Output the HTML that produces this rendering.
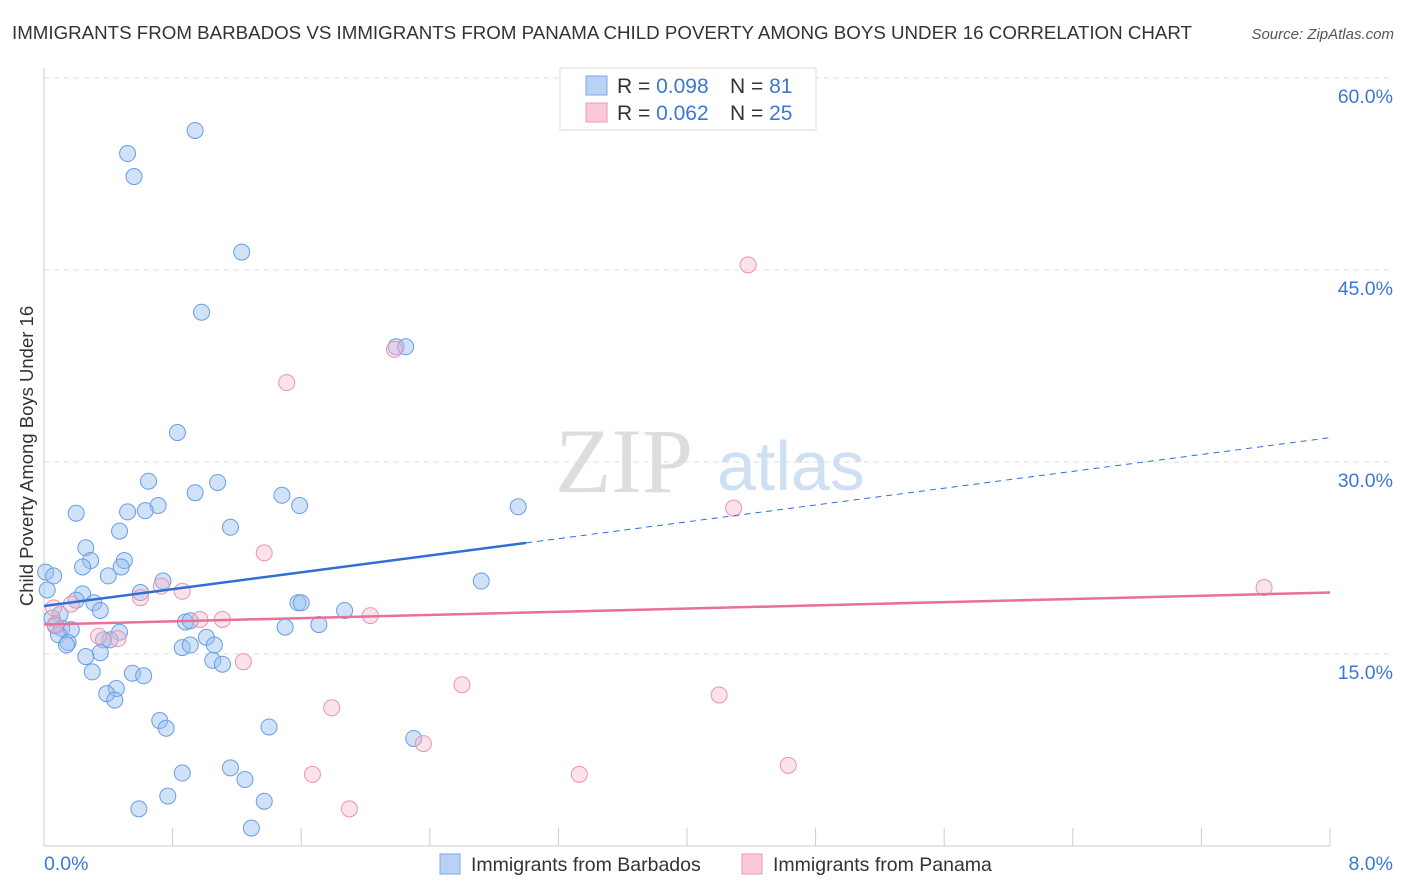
<!DOCTYPE html>
<html><head><meta charset="utf-8"><style>
body{margin:0;background:#fff;font-family:"Liberation Sans",sans-serif}
svg{display:block}
</style></head><body>
<svg id="chart" width="1406" height="892" xmlns="http://www.w3.org/2000/svg" font-family="Liberation Sans, sans-serif">
<text x="12" y="39" font-size="18.5" fill="#333" textLength="1180" lengthAdjust="spacingAndGlyphs">IMMIGRANTS FROM BARBADOS VS IMMIGRANTS FROM PANAMA CHILD POVERTY AMONG BOYS UNDER 16 CORRELATION CHART</text>
<text x="1394" y="39" font-size="15" fill="#555" text-anchor="end" font-style="italic">Source: ZipAtlas.com</text>
<text transform="translate(33,456) rotate(-90)" font-size="18.5" fill="#333" text-anchor="middle">Child Poverty Among Boys Under 16</text>
<g id="grid"></g>
<text x="555" y="492" font-size="92" fill="#ddd" font-family="Liberation Serif, serif">ZIP</text>
<text x="717" y="490" font-size="70" fill="#cfe0f3">atlas</text>
<g id="marks"></g>
<g>
<rect x="560" y="68" width="256" height="62" fill="#fff" stroke="#ddd"/>
<rect x="586" y="76" width="21" height="19" fill="#b7d2f5" stroke="#7ea9e6"/>
<rect x="586" y="103" width="21" height="19" fill="#fbc9d8" stroke="#ef9ab5"/>
<text x="617" y="93" font-size="21" fill="#333">R = <tspan fill="#3a78d4">0.098</tspan></text>
<text x="730" y="93" font-size="21" fill="#333">N = <tspan fill="#3a78d4"> 81</tspan></text>
<text x="617" y="120" font-size="21" fill="#333">R = <tspan fill="#3a78d4">0.062</tspan></text>
<text x="730" y="120" font-size="21" fill="#333">N = <tspan fill="#3a78d4">25</tspan></text>
</g>
<g>
<rect x="440" y="854" width="20" height="20" fill="#b7d2f5" stroke="#7ea9e6"/>
<text x="471" y="871" font-size="19.5" fill="#333">Immigrants from Barbados</text>
<rect x="742" y="854" width="20" height="20" fill="#fbc9d8" stroke="#ef9ab5"/>
<text x="773" y="871" font-size="19.5" fill="#333">Immigrants from Panama</text>
</g>
</svg>
<script>
const xTicks=[0,0.8,1.6,2.4,3.2,4.0,4.8,5.6,6.4,7.2,8.0];
const yTicks=[15,30,45,60];
const yTickLabels=["15.0%","30.0%","45.0%","60.0%"];
const xEndLabels=["0.0%","8.0%"];
const barbadosX=[0.94,0.52,0.56,1.23,0.98,2.19,2.25,0.83,0.65,1.08,0.94,1.48,1.59,2.95,0.20,0.71,0.52,0.63,1.16,0.47,0.26,0.50,0.29,0.48,0.24,0.01,0.06,0.40,2.72,0.74,0.02,0.60,0.24,0.20,0.31,0.35,1.58,1.60,1.87,0.10,0.05,0.88,0.91,1.71,1.50,0.07,0.11,0.17,0.09,0.47,1.01,0.41,0.37,0.15,0.14,0.86,0.91,1.06,0.35,0.26,1.05,1.11,0.30,0.55,0.62,0.45,0.39,0.44,0.72,0.76,1.40,2.30,0.86,1.16,1.25,0.77,1.37,0.59,1.29];
const barbadosY=[55.9,54.1,52.3,46.4,41.7,39.0,39.0,32.3,28.5,28.4,27.6,27.4,26.6,26.5,26.0,26.6,26.1,26.2,24.9,24.6,23.3,22.3,22.3,21.8,21.8,21.4,21.1,21.1,20.7,20.7,20.0,19.8,19.7,19.2,19.0,18.4,19.0,19.0,18.4,18.1,17.8,17.5,17.6,17.3,17.1,17.2,17.0,16.9,16.5,16.7,16.3,16.1,16.1,15.9,15.7,15.5,15.7,15.7,15.1,14.8,14.5,14.2,13.6,13.5,13.3,12.3,11.9,11.4,9.8,9.2,9.3,8.4,5.7,6.1,5.2,3.9,3.5,2.9,1.4];
const panamaX=[4.38,2.18,1.51,4.29,1.37,7.59,0.73,0.86,0.60,0.17,0.06,2.03,0.97,1.11,0.07,0.34,0.46,1.24,2.60,4.20,1.79,2.36,4.63,3.33,1.67,1.90];
const panamaY=[45.4,38.8,36.2,26.4,22.9,20.2,20.3,19.9,19.4,18.9,18.6,18.0,17.7,17.7,17.3,16.4,16.2,14.4,12.6,11.8,10.8,8.0,6.3,5.6,5.6,2.9];
const barbadosTrend=[18.75,31.9];
const barbadosSolidEnd=3.0;
const panamaTrend=[17.3,19.8];

const X=v=>44+v*160.75, Y=v=>846-v*12.8;
const NS="http://www.w3.org/2000/svg";
const grid=document.getElementById('grid'), marks=document.getElementById('marks');
function mk(tag,attrs,parent){const e=document.createElementNS(NS,tag);for(const k in attrs)e.setAttribute(k,attrs[k]);parent.appendChild(e);return e;}
yTicks.forEach((t,i)=>{
  const l=mk('line',{x1:44,x2:1394,y1:Y(t),y2:Y(t),stroke:'#ddd','stroke-dasharray':'5,5'},grid);
  
  
  const tx=mk('text',{x:1393,y:Y(t)+25,'font-size':19.5,fill:'#3a78d4','text-anchor':'end'},grid);
  tx.textContent=yTickLabels[i];
  
  
});
const ax=mk('line',{x1:44,x2:1330,y1:846,y2:846,stroke:'#ccc'},grid);


const ay=mk('line',{x1:44,x2:44,y1:68,y2:846,stroke:'#ccc'},grid);


xTicks.forEach(t=>{
  const l=mk('line',{x1:X(t),x2:X(t),y1:828,y2:846,stroke:'#ccc'},grid);
  
  
});
[[0,'start',xEndLabels[0]],[8,'end',xEndLabels[1]]].forEach(([v,a,s])=>{
  const t=mk('text',{x:v===0?44:1393,y:870,'font-size':19.5,fill:'#3a78d4','text-anchor':a},grid);
  t.textContent=s;
  
  
});
barbadosX.forEach((x,i)=>{
  const c=mk('circle',{cx:X(x),cy:Y(barbadosY[i]),r:8,fill:'rgba(150,190,240,0.45)',stroke:'#6a9de0','stroke-width':1},marks);
  
  
});
panamaX.forEach((x,i)=>{
  const c=mk('circle',{cx:X(x),cy:Y(panamaY[i]),r:8,fill:'rgba(248,185,205,0.4)',stroke:'#ec93b0','stroke-width':1},marks);
  
  
});
const bAt=x=>barbadosTrend[0]+(barbadosTrend[1]-barbadosTrend[0])*x/8;
const b1=mk('line',{x1:X(0),y1:Y(bAt(0)),x2:X(barbadosSolidEnd),y2:Y(bAt(barbadosSolidEnd)),stroke:'#2f6fd6','stroke-width':2.5},marks);


const b2=mk('line',{x1:X(barbadosSolidEnd),y1:Y(bAt(barbadosSolidEnd)),x2:X(8),y2:Y(bAt(8)),stroke:'#2f6fd6','stroke-width':1,'stroke-dasharray':'6,5'},marks);


const p1=mk('line',{x1:X(0),y1:Y(panamaTrend[0]),x2:X(8),y2:Y(panamaTrend[1]),stroke:'#e8709a','stroke-width':2.5},marks);


</script>
</body></html>
